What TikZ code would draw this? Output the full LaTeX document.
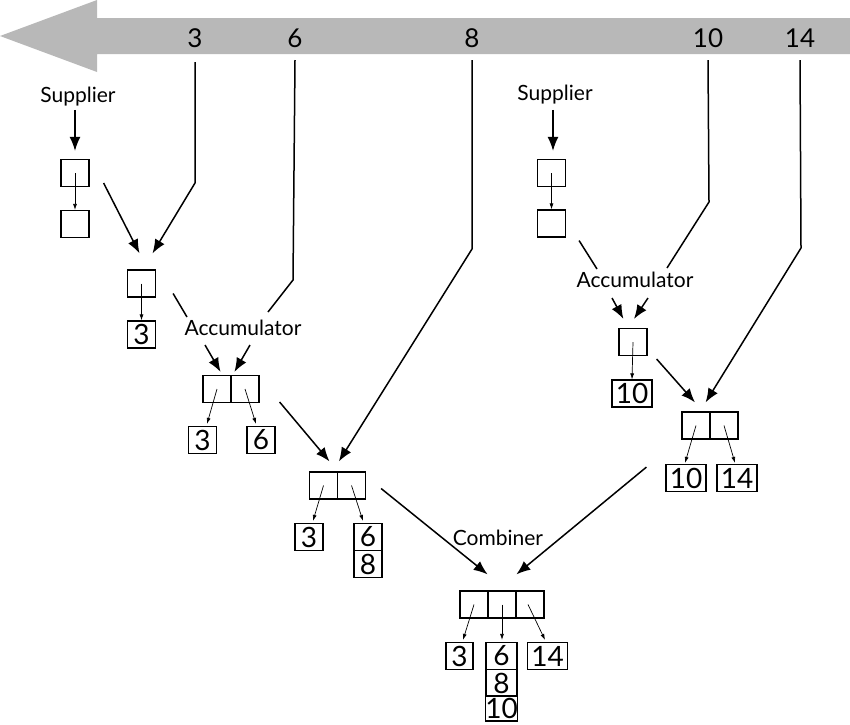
\documentclass[tikz,border=0pt]{standalone}
\usepackage{fontspec}
\setmainfont{Lato}
\usetikzlibrary{arrows.meta,calc}
\definecolor{arrowgray}{HTML}{B8B8B8}
\begin{document}
\begin{tikzpicture}[x=1pt,y=-1pt,
 cell/.style={draw,line width=1.2pt,minimum width=28pt,minimum height=27pt,inner sep=0pt,font=\fontsize{28}{28}\selectfont},
 wcell/.style={cell,minimum width=40pt},
 lbl/.style={font=\fontsize{21}{21}\selectfont,inner sep=0pt},
 num/.style={font=\fontsize{26}{26}\selectfont,inner sep=0pt},
 conn/.style={line width=1.5pt},
 bigarrow/.style={conn,-{Latex[length=14pt,width=11pt]}},
 thinarrow/.style={line width=0.7pt,-{Latex[length=6pt,width=4pt]}},
]
\useasboundingbox (0,0) rectangle (850,724);
% time arrow
\fill[arrowgray] (0,36) -- (97,0) -- (97,18) -- (850,18) -- (850,54) -- (97,54) -- (97,72) -- cycle;
\node[num] (n3) at (195,38) {3};
\node[num] (n6) at (295,38) {6};
\node[num] (n8) at (472,38) {8};
\node[num] (n10) at (708,38) {10};
\node[num] (n14) at (800,38) {14};

% left supplier
\node[lbl] (sup1) at (78,97) {Supplier};
\node[cell] (a1) at (75,173) {};
\node[cell] (a2) at (75,224) {};
\draw[bigarrow] ($(a1.north)+(0,-49)$) -- ($(a1.north)+(0,-8)$);
\draw[thinarrow] (a1.center) -- (a2.north);

\node[cell] (b1) at (141.5,283.5) {};
\node[cell] (b1v) at (141.5,334.5) {3};
\draw[thinarrow] (b1.center) -- (b1v.north);
\draw[bigarrow] ($(a1.east)+(14,10)$) -- ($(b1.north)+(-2,-16)$);
\draw[bigarrow] (n3.south |- 0,62) -- (195,183) -- ($(b1.north)+(11,-16)$);

% accumulator 1
\node[lbl] (acc1) at (243,328) {Accumulator};
\node[cell] (c1) at (217,389) {};
\node[cell] (c2) at (245,389) {};
\node[cell] (c1v) at (202.5,440) {3};
\node[cell] (c2v) at (261,440) {6};
\draw[conn] ($(b1.east)+(17,10)$) -- (187,317);
\draw[conn] (n6.south |- 0,60) -- (293,280) -- (268,312);
\draw[bigarrow] (205,345) -- ($(c1.north east)+(-11,-3)$);
\draw[bigarrow] (250,345) -- ($(c2.north west)+(4,-3)$);
\draw[thinarrow] (c1.center) -- ($(c1v.north)+(4.5,-2)$);
\draw[thinarrow] (c2.center) -- ($(c2v.north)+(-5,-2)$);

% pair d
\node[cell] (d1) at (323.5,485.5) {};
\node[cell] (d2) at (351.5,485.5) {};
\node[cell] (d1v) at (309,537) {3};
\node[cell] (d2v) at (368,537) {6};
\node[cell] (d2w) at (368,564) {8};
\draw[bigarrow] ($(c2.east)+(20,13)$) -- ($(d1.north)+(6,-10)$);
\draw[bigarrow] (n8.south |- 0,60) -- (472,249) -- ($(d2.north west)+(2,-10)$);
\draw[thinarrow] (d1.center) -- ($(d1v.north)+(4,-2)$);
\draw[thinarrow] (d2.center) -- ($(d2v.north)+(-5,-2)$);

% combiner
\node[lbl] (comb) at (498,538) {Combiner};
\node[cell] (e1) at (474,604.5) {};
\node[cell] (e2) at (502,604.5) {};
\node[cell] (e3) at (530,604.5) {};
\node[cell,minimum width=27pt] (e1v) at (459.5,656) {3};
\node[cell,minimum width=31pt] (e2a) at (501.5,656) {6};
\node[cell,minimum width=31pt] (e2b) at (501.5,683) {8};
\node[cell,minimum width=31pt,minimum height=25pt] (e2c) at (501.5,708.5) {10};
\node[wcell] (e3v) at (547.5,656) {14};
\draw[bigarrow] ($(d2.east)+(15,3)$) -- ($(e1.north east)+(-1,-16)$);
\draw[thinarrow] (e1.center) -- ($(e1v.north)+(3.5,-2)$);
\draw[thinarrow] (e2.center) -- ($(e2a.north)+(0.5,-2)$);
\draw[thinarrow] ($(e3.center)+(-2,0)$) -- ($(e3v.north)+(-2.5,-2)$);

% right supplier
\node[lbl] (sup2) at (555,95) {Supplier};
\node[cell] (f1) at (551.5,173) {};
\node[cell] (f2) at (551.5,223.5) {};
\draw[bigarrow] ($(f1.north)+(1.5,-49)$) -- ($(f1.north)+(1.5,-8)$);
\draw[thinarrow] (f1.center) -- (f2.north);

% accumulator 2
\node[lbl] (acc2) at (635,280) {Accumulator};
\node[cell] (g) at (633,342) {};
\node[wcell] (gv) at (632,393.5) {10};
\draw[conn] ($(f2.south east)+(13,3)$) -- (597,269);
\draw[conn] (n10.south |- 0,60) -- (709,202) -- (667,268);
\draw[bigarrow] (612,298) -- ($(g.north west)+(5,-9)$);
\draw[bigarrow] (648,298) -- ($(g.north)+(1,-9)$);
\draw[thinarrow] (g.center) -- (gv.north);

% pair h
\node[cell] (h1) at (696,425.5) {};
\node[cell] (h2) at (724,425.5) {};
\node[wcell] (h1v) at (686,478) {10};
\node[wcell] (h2v) at (737,478) {14};
\draw[bigarrow] ($(g.east)+(9,17)$) -- ($(h1.north)+(-1,-9)$);
\draw[bigarrow] (n14.south |- 0,60) -- (801,248) -- ($(h1.north east)+(-5,-9)$);
\draw[thinarrow] (h1.center) -- ($(h1v.north)+(-1,-1)$);
\draw[thinarrow] (h2.center) -- ($(h2v.north)+(-2,-1)$);
\draw[bigarrow] ($(h1v.south west)+(-19,-25)$) -- ($(e3.north west)+(1,-16)$);
\end{tikzpicture}
\end{document}
